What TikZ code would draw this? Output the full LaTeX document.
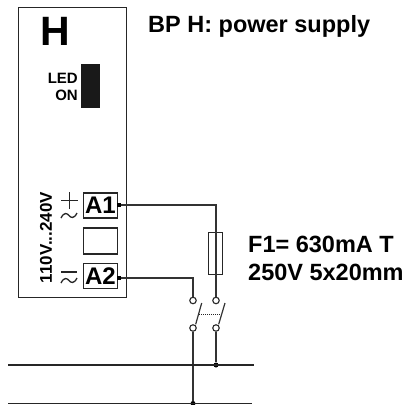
\documentclass[tikz,border=0pt]{standalone}
\usepackage{fontspec}
\setmainfont{Liberation Sans}
\tikzset{
 panel/.style={draw=black!85,line width=1.1pt,fill=white},
 term/.style={draw=black!85,line width=1.6pt,minimum width=34pt,minimum height=25pt,inner sep=0pt,font=\bfseries\fontsize{24}{24}\selectfont},
 wire/.style={draw=black!80,line width=1.2pt},
 bus/.style={draw=black!85,line width=1.5pt},
 sign/.style={draw=black!85,line width=1.3pt},
 contact/.style={circle,draw=black!85,line width=1.1pt,fill=white,minimum size=6.5pt,inner sep=0pt},
 dotj/.style={circle,fill=black,minimum size=5pt,inner sep=0pt},
 lab/.style={inner sep=0pt,font=\bfseries\fontsize{23.5}{23.5}\selectfont,anchor=base west},
 small/.style={inner sep=0pt,font=\bfseries\fontsize{15}{15}\selectfont,anchor=base east},
}
\begin{document}
\begin{tikzpicture}[x=1pt,y=-1pt]
\useasboundingbox (0,0) rectangle (408,405);
\node[panel,minimum width=108pt,minimum height=290.5pt,inner sep=0pt,anchor=north west] (panel) at (17.5,6.5) {};
\node[inner sep=0pt,font=\bfseries\fontsize{41}{41}\selectfont,anchor=base] (h) at (55.5,45) {H};
\node[small] (led) at (78,83) {LED};
\node[small] (on) at (78,100) {ON};
\node[fill=black!90,minimum width=18.6pt,minimum height=44pt,inner sep=0pt,anchor=north west] (ledbar) at (80.7,64) {};
\node[term] (a1) at (100.5,205.5) {A1};
\node[term,minimum height=25.5pt] (blank) at (100.5,241) {};
\node[term] (a2) at (100.5,276) {A2};
\node[inner sep=0pt,rotate=90,font=\bfseries\fontsize{17}{17}\selectfont,anchor=base] (volt) at (52,237.5) {110V...240V};
% polarity signs
\draw[sign] (61,200.7) -- (78,200.7) (69.5,192) -- (69.5,209);
\draw[sign] (61,218) .. controls (64,212) and (67,213) .. (69,215.5) .. controls (71,218) and (74,219) .. (77,213);
\draw[sign] (61,272) -- (77,272);
\draw[sign] (61,283) .. controls (64,277) and (67,278) .. (69,280.5) .. controls (71,283) and (74,284) .. (77,278);
% terminal dots
\node[fill=black,minimum size=3.5pt,inner sep=0pt] (p1) at (119,205) {};
\node[fill=black,minimum size=3.5pt,inner sep=0pt] (p2) at (119,278) {};
% switch and fuse
\node[draw=black!85,line width=1pt,minimum width=14.5pt,minimum height=42pt,inner sep=0pt] (fuse) at (215.7,253) {};
\node[contact] (c1) at (193,300.5) {};
\node[contact] (c2) at (216,300.5) {};
\node[contact] (c3) at (193,328) {};
\node[contact] (c4) at (216,328) {};
\coordinate (k1) at (216,205);
\coordinate (k2) at (193,278);
\coordinate (b1l) at (8,365);
\coordinate (b1r) at (254,365);
\coordinate (b2l) at (8,403.5);
\coordinate (b2r) at (252,403.5);
\node[dotj] (d1) at (216,365) {};
\node[dotj] (d2) at (193,403.5) {};
\draw[wire] (p1) -- (k1) -- (c2);
\draw[wire] (p2) -- (k2) -- (c1);
\draw[wire] (c3) -- (d2);
\draw[wire] (c4) -- (d1);
\draw[bus] (b1l) -- (b1r);
\draw[bus] (b2l) -- (b2r);
\draw[wire] (c3.north east) ++(0,-1) -- (201.7,303);
\draw[wire] (c4.north east) ++(0,-1) -- (225,303);
\draw[draw=black!85,line width=1pt,dash pattern=on 1pt off 1pt] (199,314) -- (221,314);
\node[lab] (t1) at (148,32) {BP H: power supply};
\node[lab] (t2) at (248,252) {F1= 630mA T};
\node[lab] (t3) at (248,280) {250V 5x20mm};
\end{tikzpicture}
\end{document}
